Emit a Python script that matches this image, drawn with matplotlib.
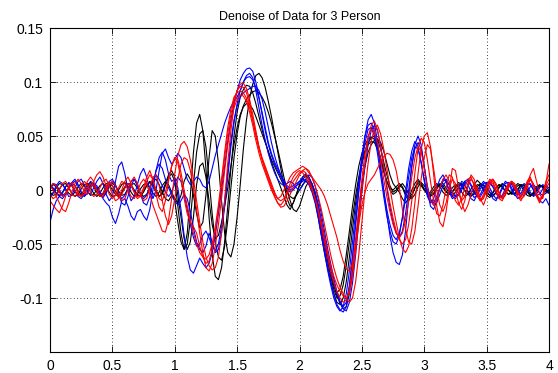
import numpy as np
import matplotlib
matplotlib.use("Agg")
import matplotlib.pyplot as plt

# sample times (s)
t = np.linspace(0, 4, 161)

# amplitudes in units of 0.001
black1 = [2,5,3,-2,-5,-3,2,6,4,-1, -4,-3,1,5,4,0,-5,-6,-2,3, 6,4,-1,-5,-4,1,5,6,2,-3,
          -6,-4,2,8,10,5,-2,-8,-10,-5, -10,-30,-48,-55,-40,-5,35,62,70,55,
          20,-25,-60,-80,-83,-72,-48,-15,20,50, 72,86,93,97,96,90,80,68,56,45,
          35,26,18,10,2,-6,-14,-18,-12,-4, 4,10,13,10,2,-10,-25,-42,-58,-72,
          -85,-96,-104,-106,-100,-85,-62,-36,-12,8, 24,36,44,48,50,47,38,26,14,4,
          -2,0,4,2,-5,-10,-6,2,8,5, 0,-4,-2,3,6,3,-2,-5,-3,2,
          5,3,-2,-6,-4,1,5,9,6,0, -5,-7,-3,2,5,3,-1,-4,-2,3, 6,4,-1,-5,-6,-2,3,5,2,-2, -3]
black2 = [-6,-3,2,6,5,1,-3,-5,-2,3, 6,4,-1,-5,-4,0,4,6,3,-2, -6,-5,0,5,7,3,-2,-6,-4,1,
          5,6,2,-3,-6,-2,4,8,5,-2, -8,-12,-5,8,15,10,-5,-22,-35,-30,
          -5,30,55,50,25,-10,-40,-58,-62,-50, -25,5,38,65,85,98,106,108,104,95,
          82,68,52,36,20,5,-8,-15,-12,-4, 5,12,15,12,5,-5,-18,-32,-48,-63,
          -76,-88,-98,-105,-110,-108,-96,-75,-48,-20, 5,22,35,42,46,47,44,36,25,14,
          6,2,-2,-8,-12,-8,0,6,10,6, 1,-3,-6,-3,2,6,4,-1,-4,-2,
          3,7,5,0,-4,-6,-2,3,6,4, -1,-5,-6,-2,3,6,4,0,-4,-3, 1,5,4,-1,-5,-4,0,4,3,-1, -2]
black3 = [4,1,-3,-5,-2,3,6,4,-1,-5, -4,0,5,7,3,-2,-6,-4,1,5, 4,-1,-5,-3,2,6,5,0,-4,-6,
          -2,4,8,6,0,-6,-4,4,12,15, 8,-15,-40,-55,-50,-28,5,35,52,55,
          40,10,-22,-48,-62,-65,-52,-28,2,30, 52,68,78,84,88,91,92,90,86,80,
          72,62,50,38,25,12,0,-10,-18,-20, -15,-6,3,8,6,-2,-14,-30,-46,-62,
          -76,-88,-95,-92,-80,-60,-38,-15,5,22, 34,42,47,49,47,40,30,18,8,0,
          -4,-2,3,6,2,-4,-8,-4,3,7, 4,-1,-5,-4,1,5,6,2,-3,-5,
          -2,3,6,4,-1,-5,-4,0,4,5, 2,-2,-5,-3,2,5,4,0,-3,-4, 0,4,5,1,-4,-5,-1,3,4,1, -2]
black4 = [-2,-5,-4,1,5,6,2,-3,-6,-4, 1,5,6,2,-3,-6,-3,2,6,5, 0,-4,-6,-2,3,6,4,-1,-5,-5,
          -1,4,7,4,-2,-6,-2,6,14,18, 12,-5,-25,-45,-55,-48,-25,5,22,25,
          12,-10,-32,-45,-42,-30,-15,2,22,42, 58,70,77,80,79,75,68,60,52,44,
          36,28,22,16,10,4,-2,-6,-8,-5, 0,5,8,6,0,-8,-20,-35,-50,-66,
          -80,-92,-100,-98,-88,-70,-48,-25,-5,12, 26,36,42,45,44,38,28,17,8,2,
          0,3,6,3,-3,-7,-4,2,6,4, 0,-3,-4,0,4,5,2,-2,-4,-2,
          2,5,4,-1,-4,-3,1,5,4,0, -3,-5,-2,2,5,3,-1,-4,-3,1, 4,5,2,-2,-5,-3,1,4,3,0, -1]

blue1 = [-30,-18,-10,-6,-8,-4,2,6,8,4, -2,-6,-3,2,6,4,-2,-8,-12,-15, -25,-31,-22,-10,-8,-15,-24,-28,-20,-18,
         -24,-28,-18,0,18,30,35,28,15,8, 10,2,-18,-42,-62,-74,-77,-70,-63,-68,
         -72,-68,-58,-42,-22,0,22,45,65,80, 92,102,108,112,113,110,100,86,70,55,
         42,32,24,18,12,6,2,0,2,4, 6,8,10,8,2,-8,-22,-38,-55,-70,
         -84,-96,-106,-111,-113,-108,-90,-62,-30,0, 28,50,65,70,62,45,22,0,-22,-42,
         -58,-67,-69,-60,-38,-8,22,42,50,42, 22,0,-15,-18,-10,2,10,8,0,-6,
         -8,-3,4,8,5,-2,-7,-5,1,6, 7,2,-4,-8,-5,1,6,7,2,-4, -8,-6,0,5,6,1,-5,-10,-12,-8, -14]
blue2 = [-8,-2,4,8,6,0,-6,-5,2,8, 10,5,-2,-4,2,8,12,6,-4,-10, -6,8,22,26,15,0,-10,-6,5,15,
         20,12,0,-8,0,18,34,38,30,24, 28,34,30,20,10,5,8,12,10,4,
         2,8,20,32,42,52,62,70,77,82, 86,92,100,106,108,104,92,76,60,46,
         34,24,16,10,6,4,6,8,6,2, 0,4,10,14,12,4,-8,-22,-38,-54,
         -68,-82,-94,-103,-108,-104,-88,-62,-32,-2, 24,44,56,58,50,34,14,-6,-24,-38,
         -48,-50,-42,-25,-2,20,36,45,40,25, 8,-6,-12,-8,2,10,14,8,-2,-8,
         -6,2,8,6,-2,-8,-10,-4,4,8, 5,-2,-8,-10,-4,3,8,6,0,-5, -4,2,6,4,-2,-6,-4,2,5,3, 0]
blue3 = [2,6,5,0,-5,-4,2,7,10,5, -2,-6,-2,4,6,2,-4,-3,3,8, 10,5,-4,-12,-14,-6,4,10,6,-4,
         -12,-14,-6,6,18,24,20,10,2,-4, -10,-14,-10,-4,-8,-20,-35,-48,-55,-58,
         -52,-40,-48,-58,-55,-40,-15,12,40,62, 80,92,100,104,105,102,95,85,72,58,
         44,34,26,20,14,8,4,2,4,6, 8,10,9,5,-2,-12,-26,-42,-58,-74,
         -88,-100,-108,-112,-108,-96,-75,-48,-20,8, 32,50,60,62,55,40,20,0,-18,-32,
         -42,-46,-40,-26,-8,12,30,40,38,26, 10,-4,-10,-12,-6,2,8,10,5,-2,
         -6,-4,2,8,10,5,-2,-6,-4,2, 6,8,3,-3,-7,-5,1,6,5,0, -4,-3,2,6,5,0,-5,-4,1,4, 2]
blue4 = [5,2,-3,-6,-3,3,7,5,-1,-6, -8,-4,3,8,6,0,-5,-7,-3,4, 8,4,-3,-8,-5,2,8,10,4,-4,
         -8,-5,3,10,14,10,4,-2,-6,-2, 6,12,8,-4,-18,-32,-44,-52,-50,-42,
         -38,-44,-52,-56,-50,-34,-10,18,45,65, 78,86,90,92,94,96,96,92,84,72,
         58,44,32,22,14,8,2,-2,0,4, 8,12,14,12,6,-2,-14,-28,-44,-60,
         -74,-86,-96,-104,-110,-112,-104,-86,-60,-30, -2,22,42,55,60,55,42,22,2,-16,
         -30,-40,-44,-38,-22,0,22,38,44,38, 22,4,-8,-14,-12,-4,4,8,5,-2,
         -6,-5,0,6,8,4,-2,-6,-6,-1, 4,6,3,-2,-6,-6,-2,3,6,4, 0,-4,-5,-2,3,5,2,-3,-5,-3, -1]

red1 = [4,0,-6,-12,-18,-20,-12,-2,6,10, 6,-2,-4,2,8,14,17,12,4,-4, -8,-5,2,8,6,0,-6,-8,-2,6,
        10,6,-4,-14,-22,-30,-38,-39,-28,-8, 15,32,42,45,40,28,10,-10,-30,-48,
        -62,-70,-74,-72,-62,-40,-10,25,55,78, 92,98,99,94,84,70,55,40,28,18,
        10,2,-6,-12,-16,-15,-10,-4,2,8, 14,18,20,18,12,4,-6,-18,-32,-46,
        -60,-72,-82,-90,-96,-101,-104,-100,-85,-60, -30,0,25,45,57,60,52,38,20,2,
        -15,-30,-44,-54,-58,-52,-36,-12,15,38, 50,53,40,15,-15,-30,-34,-20,0,20,
        18,2,-12,-20,-14,-4,6,2,-8,-14, -6,4,10,6,-2,-8,-4,4,8,2, -6,-10,-4,6,14,20,8,-4,-8,6, 24]
red2 = [-4,-8,-6,0,6,8,3,-4,-6,-2, 4,8,5,-2,-6,-4,2,8,10,4, -4,-10,-8,0,8,12,6,-2,-8,-6,
        0,8,14,10,0,-8,-10,-2,10,22, 30,28,16,0,-15,-28,-40,-50,-58,-62,
        -64,-60,-50,-34,-14,10,35,58,75,86, 90,92,90,85,76,64,50,38,28,20,
        12,4,-4,-8,-6,0,6,12,16,18, 20,22,20,16,12,8,4,0,-6,-14,
        -24,-34,-44,-56,-66,-73,-75,-68,-52,-32, -14,-2,6,10,14,20,26,31,34,33,
        28,18,2,-18,-36,-48,-50,-38,-15,10, 30,42,38,20,0,-14,-20,-12,2,10,
        6,-4,-10,-6,4,10,6,-4,-10,-8, 0,8,10,4,-4,-8,-5,2,8,6, -2,-8,-6,2,10,6,-4,-10,-6,4, 10]
red3 = [2,6,4,-2,-6,-3,3,7,4,-2, -6,-4,2,6,4,-1,-5,-3,3,7, 4,-3,-7,-4,2,6,4,-2,-6,-5,
        2,12,18,10,-4,-16,-20,-10,8,22, 30,25,10,-8,-22,-30,-34,-40,-52,-62,
        -68,-66,-55,-38,-18,5,30,52,70,84, 92,96,95,90,80,66,52,40,30,22,
        14,6,-2,-8,-10,-8,-2,6,12,16, 18,16,12,6,0,-8,-18,-30,-44,-58,
        -70,-80,-88,-94,-98,-100,-96,-80,-56,-28, 0,26,48,60,64,56,40,22,4,-12,
        -26,-38,-46,-50,-46,-32,-10,16,38,48, 44,28,8,-10,-22,-24,-14,2,14,12,
        0,-12,-18,-10,4,14,10,-2,-10,-6, 2,8,6,-2,-8,-6,0,6,8,2, -4,-6,0,8,12,4,-6,-12,-4,8, 14]
red4 = [-10,-14,-18,-21,-15,-6,2,4,0,-5, -6,0,8,12,8,0,-6,-6,0,6, 8,4,-4,-10,-8,0,8,12,6,-4,
        -10,-8,2,12,14,4,-10,-24,-32,-24, -8,10,24,30,28,18,2,-18,-40,-58,
        -72,-75,-68,-52,-32,-8,18,42,62,76, 84,88,87,82,72,60,46,34,24,16,
        8,0,-6,-12,-14,-10,-4,2,8,12, 16,18,16,10,2,-8,-20,-34,-48,-62,
        -76,-86,-94,-100,-104,-102,-92,-72,-46,-18, 10,34,50,56,54,44,28,10,-6,-20,
        -32,-40,-44,-40,-28,-10,12,30,40,36, 20,2,-10,-14,-8,2,10,14,8,-2,
        -10,-14,-8,2,10,12,4,-6,-10,-4, 4,10,8,0,-8,-10,-4,4,8,4, -2,-6,-2,6,10,4,-4,-8,-6,2, 6]

series_black = [black1, black2, black3, black4]
series_blue = [blue1, blue2, blue3, blue4]
series_red = [red1, red2, red3, red4]

xticks = [0, 0.5, 1, 1.5, 2, 2.5, 3, 3.5, 4]
xticklabels = ["0", "0.5", "1", "1.5", "2", "2.5", "3", "3.5", "4"]
yticks = [-0.1, -0.05, 0, 0.05, 0.1, 0.15]
yticklabels = ["-0.1", "-0.05", "0", "0.05", "0.1", "0.15"]
title = "Denoise of Data for 3 Person"

plt.rcParams['font.family'] = ['Liberation Sans', 'DejaVu Sans']
fig = plt.figure(figsize=(5.58, 3.73), dpi=100)
ax = fig.add_axes([50/558, 21/373, 499/558, 324/373])

for group, col in ((series_black, 'k'), (series_blue, '#0000ff'), (series_red, '#ff0000')):
    for s in group:
        assert len(s) == len(t), len(s)
        ax.plot(t, np.array(s) / 1000.0, color=col, lw=0.8)

ax.set_xlim(0, 4)
ax.set_ylim(-0.15, 0.15)
ax.set_xticks(xticks)
ax.set_xticklabels(xticklabels)
ax.set_yticks(yticks)
ax.set_yticklabels(yticklabels)
ax.tick_params(direction='in', top=True, right=True, labelsize=10, length=4, width=0.6, pad=5)
ax.grid(True, linestyle=(0, (1, 3)), color='k', lw=0.6)
for sp in ax.spines.values():
    sp.set_linewidth(0.8)
ax.set_title(title, fontsize=9, pad=6)

fig.savefig("out.png", dpi=100)
